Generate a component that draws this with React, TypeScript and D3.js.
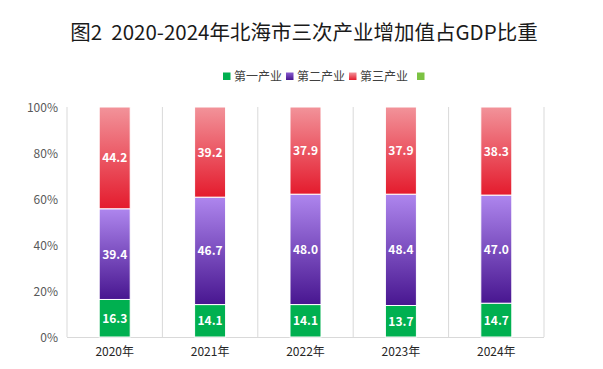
import React from "react";
import * as d3 from "d3";

const years = ["2020年", "2021年", "2022年", "2023年", "2024年"];
const primary = [16.3, 14.1, 14.1, 13.7, 14.7];
const secondary = [39.4, 46.7, 48.0, 48.4, 47.0];
const tertiary = [44.2, 39.2, 37.9, 37.9, 38.3];
const seriesNames = ["第一产业", "第二产业", "第三产业"];
const yTicks = [0, 20, 40, 60, 80, 100];

const W = 603;
const H = 369;
const left = 67;
const right = 544;
const top = 107;
const bottom = 337;
const FONT = "'Noto Sans CJK SC', 'Noto Sans', sans-serif";

export default function App() {
  const x = d3.scaleBand<string>().domain(years).range([left, right]).paddingInner(0.675).paddingOuter(0.3375);
  const y = d3.scaleLinear().domain([0, 100]).range([bottom, top]);
  const data = years.map((yr, i) => ({ year: yr, p: primary[i], s: secondary[i], t: tertiary[i] }));
  const stack = d3.stack<any>().keys(["p", "s", "t"]).offset(d3.stackOffsetExpand);
  const series = stack(data);
  const fills = ["#00b050", "url(#gPurple)", "url(#gRed)"];
  const values = [primary, secondary, tertiary];
  const step = x.step();
  const boundaries = d3.range(years.length + 1).map((i) => left + i * step);

  const legend = [
    { x: 223, color: "#00b050", label: seriesNames[0] },
    { x: 286, color: "url(#gPurpleL)", label: seriesNames[1] },
    { x: 349, color: "url(#gRedL)", label: seriesNames[2] },
    { x: 417, color: "#7cc243", label: "" },
  ];

  return (
    <svg width={W} height={H} style={{ position: "absolute", left: 0, top: 0, background: "#fff" }} fontFamily={FONT}>
      <defs>
        <linearGradient id="gPurple" x1="0" y1="0" x2="0" y2="1">
          <stop offset="0" stopColor="#ae86ee" />
          <stop offset="1" stopColor="#481690" />
        </linearGradient>
        <linearGradient id="gRed" x1="0" y1="0" x2="0" y2="1">
          <stop offset="0" stopColor="#f2939a" />
          <stop offset="1" stopColor="#e41b2d" />
        </linearGradient>
        <linearGradient id="gPurpleL" x1="0" y1="0" x2="0" y2="1">
          <stop offset="0" stopColor="#8a5cd0" />
          <stop offset="1" stopColor="#481690" />
        </linearGradient>
        <linearGradient id="gRedL" x1="0" y1="0" x2="0" y2="1">
          <stop offset="0" stopColor="#f2939a" />
          <stop offset="1" stopColor="#e41b2d" />
        </linearGradient>
      </defs>
      <rect width={W} height={H} fill="#fff" />
      <text x={304} y={40} textAnchor="middle" fontSize={20.5} fill="#1a1a1a" style={{ whiteSpace: "pre" }}>
        {"图2  2020-2024年北海市三次产业增加值占GDP比重"}
      </text>
      {legend.map((l, i) => (
        <g key={i}>
          <rect x={l.x} y={72.5} width={7.5} height={7.5} fill={l.color} />
          {l.label && (
            <text x={l.x + 11} y={80.5} fontSize={12} fill="#404040">
              {l.label}
            </text>
          )}
        </g>
      ))}
      {boundaries.map((bx, i) => (
        <line key={i} x1={bx} x2={bx} y1={top} y2={bottom} stroke="#d9d9d9" strokeWidth={1} />
      ))}
      <line x1={left} x2={right} y1={bottom + 0.5} y2={bottom + 0.5} stroke="#d9d9d9" strokeWidth={1} />
      {yTicks.map((t) => (
        <text key={t} x={58} y={y(t) + 4.5} textAnchor="end" fontSize={12} fill="#595959">
          {t}%
        </text>
      ))}
      {series.map((s, si) =>
        s.map((d, i) => {
          const y0 = y(d[0] * 100);
          const y1 = y(d[1] * 100);
          const bx = x(years[i])!;
          return (
            <g key={`${si}-${i}`}>
              <rect x={bx} y={y1} width={x.bandwidth()} height={y0 - y1} fill={fills[si]} stroke="#fff" strokeWidth={1} />
              <text
                x={bx + x.bandwidth() / 2}
                y={(y0 + y1) / 2 + 4.5}
                textAnchor="middle"
                fontSize={12}
                fontWeight="bold"
                fill="#fff"
              >
                {values[si][i].toFixed(1)}
              </text>
            </g>
          );
        })
      )}
      {years.map((yr) => (
        <text key={yr} x={x(yr)! + x.bandwidth() / 2} y={356} textAnchor="middle" fontSize={12} fill="#262626">
          {yr}
        </text>
      ))}
    </svg>
  );
}
